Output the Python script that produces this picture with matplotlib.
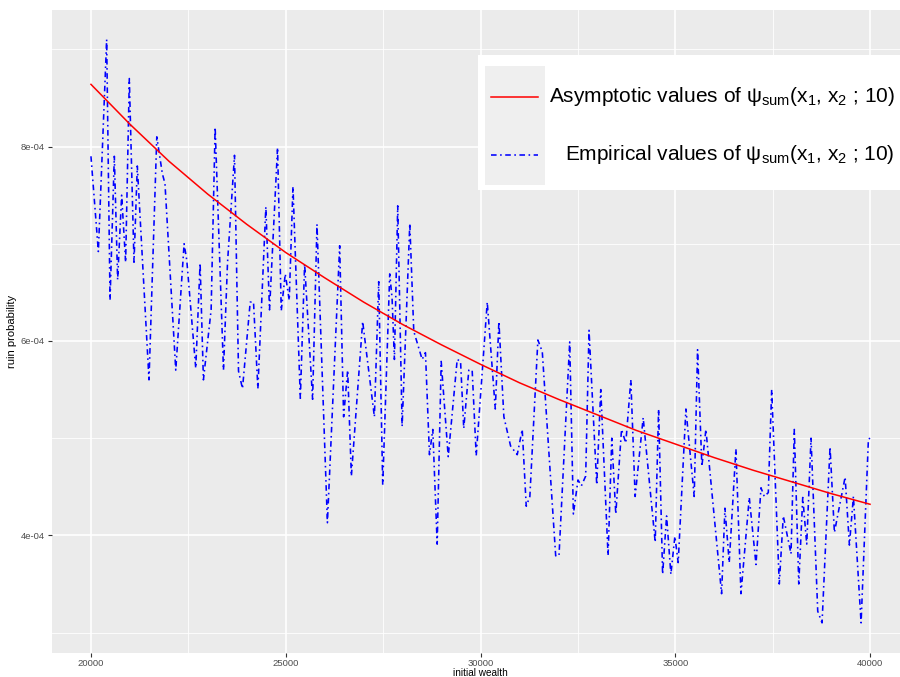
import matplotlib
matplotlib.use("Agg")
import matplotlib.pyplot as plt
from matplotlib.lines import Line2D
from matplotlib.patches import Rectangle
from matplotlib.ticker import MultipleLocator, FuncFormatter

plt.rcParams['font.family'] = ['Liberation Sans', 'DejaVu Sans']
plt.rcParams['mathtext.fontset'] = 'custom'
plt.rcParams['mathtext.rm'] = 'Liberation Sans'
plt.rcParams['mathtext.it'] = 'Liberation Sans:italic'

# asymptotic values, units of 1e-4
asym_x = [20000, 21000, 22000, 23000, 24000, 25000, 26000, 27000, 28000, 29000, 30000,
          31000, 32000, 33000, 34000, 35000, 36000, 37000, 38000, 39000, 40000]
asym_y = [8.64, 8.23, 7.85, 7.51, 7.20, 6.91, 6.65, 6.40, 6.17, 5.96, 5.76,
          5.57, 5.40, 5.24, 5.08, 4.94, 4.80, 4.67, 4.55, 4.43, 4.32]

# empirical values (turning points of the blue line), units of 1e-4
emp_x = [20000, 20190, 20403, 20490, 20600, 20685, 20788, 20890, 20985, 21105,
         21190, 21490, 21690, 21833, 21900, 22177, 22391, 22460, 22690, 22802,
         22887, 23085, 23188, 23402, 23505, 23685, 23788, 23890, 24088, 24173,
         24285, 24490, 24584, 24790, 24885, 24988, 25090, 25186, 25375, 25485,
         25690, 25802, 26070, 26385, 26486, 26590, 26685, 26975, 27276, 27387,
         27490, 27670, 27730, 27790, 27875, 27988, 28185, 28287, 28502, 28587,
         28690, 28775, 28888, 28991, 29171, 29402, 29488, 29570, 29700, 29786,
         29890, 30173, 30380, 30472, 30600, 30772, 30943, 31071, 31174, 31267,
         31473, 31586, 31930, 32015, 32290, 32384, 32503, 32590, 32700, 32786,
         32984, 33087, 33275, 33370, 33473, 33620, 33730, 33859, 33970, 34176,
         34485, 34572, 34675, 34777, 34887, 34990, 35075, 35273, 35486, 35572,
         35683, 35786, 36189, 36275, 36385, 36557, 36686, 36900, 37072, 37200,
         37285, 37388, 37475, 37670, 37773, 37971, 38056, 38170, 38272, 38375,
         38485, 38657, 38768, 38973, 39085, 39360, 39470, 39573, 39770, 39958,
         40000]
emp_y = [7.90, 6.92, 9.10, 6.42, 7.90, 6.63, 7.50, 6.81, 8.70, 6.81,
         7.80, 5.60, 8.10, 7.72, 7.62, 5.70, 7.00, 6.83, 5.72, 6.80,
         5.60, 6.32, 8.20, 5.70, 6.80, 7.91, 5.69, 5.51, 6.40, 6.40,
         5.51, 7.38, 6.32, 7.99, 6.31, 6.69, 6.42, 7.59, 5.41, 6.79,
         5.40, 7.20, 4.13, 6.98, 5.22, 5.70, 4.61, 6.20, 5.22, 6.61,
         4.52, 6.69, 6.44, 5.81, 7.39, 5.12, 7.21, 6.10, 5.81, 5.88,
         4.83, 5.09, 3.91, 5.79, 4.81, 5.81, 5.79, 5.10, 5.70, 5.70,
         4.82, 6.40, 5.30, 6.20, 5.22, 4.92, 4.83, 5.09, 4.30, 4.40,
         6.01, 5.89, 3.79, 3.79, 5.99, 4.22, 4.57, 4.51, 4.61, 6.11,
         4.52, 5.50, 3.79, 5.00, 4.22, 5.09, 4.95, 5.60, 4.40, 5.21,
         3.93, 5.30, 3.60, 4.20, 3.60, 3.99, 3.72, 5.30, 4.40, 5.91,
         4.71, 5.09, 3.40, 4.28, 3.72, 4.89, 3.40, 4.39, 3.70, 4.49,
         4.40, 4.44, 5.50, 3.50, 4.20, 3.81, 5.09, 3.50, 4.39, 3.91,
         5.00, 3.22, 3.10, 4.91, 4.03, 4.60, 3.90, 4.40, 3.10, 4.99,
         5.00]

asym_y = [v * 1e-4 for v in asym_y]
emp_y = [v * 1e-4 for v in emp_y]

W, H = 900, 677
fig = plt.figure(figsize=(W / 100, H / 100), dpi=100)
# panel runs a little past the right edge, like the cropped original
ax = fig.add_axes([52 / W, 1 - 653 / H, 857 / W, 643.5 / H])
ax.set_facecolor('#EBEBEB')
for s in ax.spines.values():
    s.set_visible(False)

dotdash = (0, (3.5, 2.2, 1, 2.2))
ax.plot(emp_x, emp_y, color='#0000FF', lw=1.15, linestyle=dotdash)
ax.plot(asym_x, asym_y, color='#FF0000', lw=1.1)

ax.set_xlim(19000, 41000)
ax.set_ylim(2.79e-4, 9.41e-4)

ax.xaxis.set_major_locator(MultipleLocator(5000))
ax.xaxis.set_minor_locator(MultipleLocator(2500))
ax.yaxis.set_major_locator(MultipleLocator(2e-4))
ax.yaxis.set_minor_locator(MultipleLocator(1e-4))
ax.yaxis.set_major_formatter(FuncFormatter(lambda v, p: f"{v:.0e}"))

ax.set_axisbelow(True)
ax.grid(which='major', color='white', lw=1.2)
ax.grid(which='minor', color='white', lw=0.6)
ax.tick_params(which='major', length=3, width=0.8, color='#333333',
               labelsize=6.8, labelcolor='#4D4D4D', pad=2)
ax.tick_params(axis='x', pad=1)
ax.tick_params(which='minor', length=0)

ax.set_xlabel('initial wealth', fontsize=7.2, labelpad=0)
ax.set_ylabel('ruin probability', fontsize=8, labelpad=3)

# legend drawn by hand: white box, grey key column, right-aligned labels
def fx(px):
    return px / W

def fy(py):
    return 1 - py / H

fig.add_artist(Rectangle((fx(478), fy(190)), fx(440), 135 / H,
                         facecolor='white', edgecolor='none', transform=fig.transFigure))
fig.add_artist(Rectangle((fx(485), fy(185)), fx(60), 119 / H,
                         facecolor='#EFEFEF', edgecolor='none', transform=fig.transFigure))
fig.add_artist(Line2D([fx(491), fx(538)], [fy(97), fy(97)], color='#FF0000', lw=1.1,
                      transform=fig.transFigure))
fig.add_artist(Line2D([fx(491), fx(538)], [fy(155), fy(155)], color='#0000FF', lw=1.15,
                      linestyle=dotdash, transform=fig.transFigure))
fig.text(fx(895), fy(97), 'Asymptotic values of ψ$_{\\mathrm{sum}}$(x$_1$, x$_2$ ; 10)',
         ha='right', va='center', fontsize=15)
fig.text(fx(895), fy(155), 'Empirical values of ψ$_{\\mathrm{sum}}$(x$_1$, x$_2$ ; 10)',
         ha='right', va='center', fontsize=15)

fig.savefig('out.png', dpi=100)
